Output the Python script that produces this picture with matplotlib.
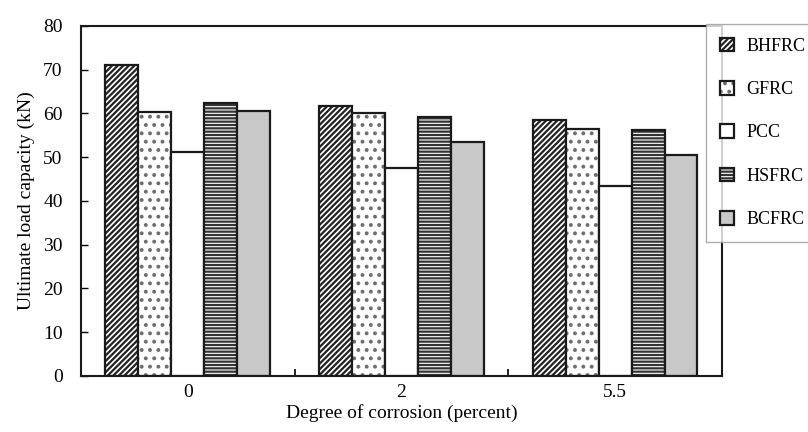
import numpy as np
import matplotlib
matplotlib.use("Agg")
import matplotlib.pyplot as plt

plt.rcParams['font.family'] = ['Liberation Serif', 'DejaVu Serif']
plt.rcParams['hatch.linewidth'] = 1.6

corrosion = ['0', '2', '5.5']
series = ['BHFRC', 'GFRC', 'PCC', 'HSFRC', 'BCFRC']
bhfrc = [71.0, 61.8, 58.5]
gfrc = [60.4, 60.0, 56.5]
pcc = [51.2, 47.6, 43.3]
hsfrc = [62.3, 59.2, 56.1]
bcfrc = [60.6, 53.5, 50.4]

values = [bhfrc, gfrc, pcc, hsfrc, bcfrc]
hatches = ['//////', '..', '', '-----', '']
hatch_colors = ['#222222', '#6e6e6e', 'white', '#333333', '#c8c8c8']
colors = ['white', 'white', 'white', 'white', '#c8c8c8']

fig = plt.figure(figsize=(8.08, 4.32), dpi=100)
ax = fig.add_axes([0.1, 0.13, 0.7936, 0.81])

x = np.arange(len(corrosion))
w = 0.154
handles = []
for i, (name, vals) in enumerate(zip(series, values)):
    pos = x + (i - 2) * w
    fill = ax.bar(pos, vals, w, color=colors[i], edgecolor=hatch_colors[i],
                  hatch=hatches[i], linewidth=0)
    edge = ax.bar(pos, vals, w, fill=False, edgecolor='#1a1a1a', linewidth=1.6)
    handles.append((fill[0], edge[0]))

ax.set_xlim(-0.5, 2.5)
ax.set_ylim(0, 80)
ax.set_yticks(range(0, 81, 10))
ax.set_xticks(x)
ax.set_xticklabels(corrosion, fontsize=14)
ax.set_xticks([0.5, 1.5], minor=True)
ax.tick_params(axis='x', which='major', length=0, pad=6)
ax.tick_params(axis='x', which='minor', direction='in', length=5, width=1.2)
ax.tick_params(axis='y', direction='in', length=5, width=1, labelsize=14, pad=13)
for s in ax.spines.values():
    s.set_linewidth(1.5)
    s.set_color('#1a1a1a')

ax.set_xlabel('Degree of corrosion (percent)', fontsize=14, labelpad=2)
ax.set_ylabel('Ultimate load capacity (kN)', fontsize=14, labelpad=6)

leg = fig.legend(handles, series, loc='upper left',
                 bbox_to_anchor=(706 / 808, 1 - 24 / 432),
                 fontsize=13, frameon=True, fancybox=False, handlelength=0.8,
                 handleheight=0.8, labelspacing=1.45, borderpad=0.75,
                 handletextpad=0.7, borderaxespad=0)
leg.get_frame().set_edgecolor('#999999')
leg.get_frame().set_linewidth(1)

fig.savefig('out.png', dpi=100)
